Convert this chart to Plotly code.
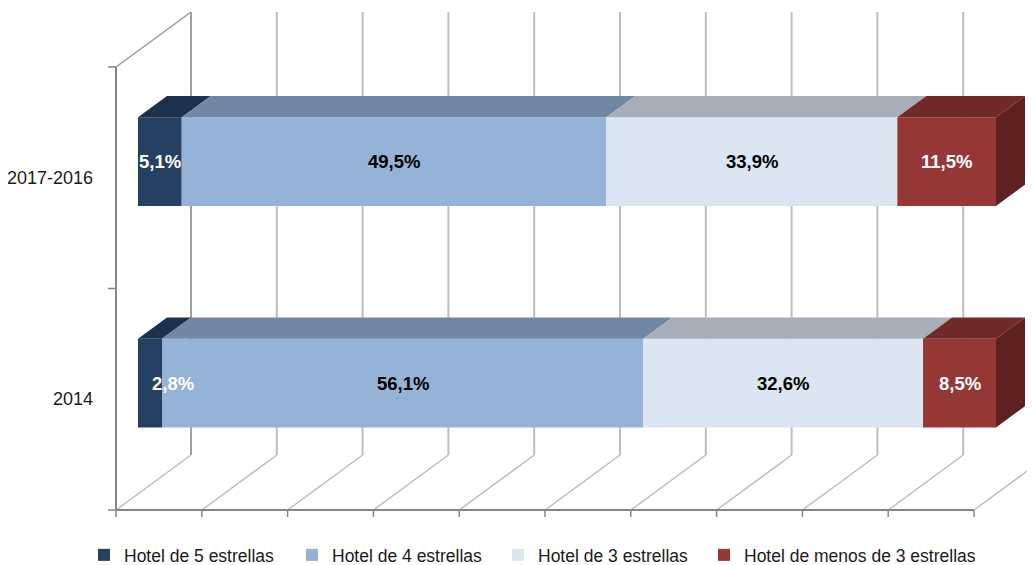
import plotly.graph_objects as go

# ---------------- data ----------------
categories = ["2014", "2017-2016"]
series_names = ["Hotel de 5 estrellas", "Hotel de 4 estrellas",
                "Hotel de 3 estrellas", "Hotel de menos de 3 estrellas"]
hotel_5 = [2.8, 5.1]
hotel_4 = [56.1, 49.5]
hotel_3 = [32.6, 33.9]
hotel_lt3 = [8.5, 11.5]
x_ticks = [0, 10, 20, 30, 40, 50, 60, 70, 80, 90, 100]

series_values = [hotel_5, hotel_4, hotel_3, hotel_lt3]

# ---------------- style ----------------
front_colors = ["#254061", "#95B3D7", "#DCE6F2", "#953735"]
top_colors = ["#1C314C", "#7088A6", "#A7AEB8", "#722A28"]
side_color = "#5E2120"
label_colors = ["white", "black", "black", "white"]
FONT = "Liberation Sans, Arial, sans-serif"

W, H = 1035, 565
PAGE_OFF = 8                    # the page body margin shifts the figure by 8 px
legend_px = [84 - PAGE_OFF, 292 - PAGE_OFF, 498 - PAGE_OFF, 704 - PAGE_OFF]
LEGEND_Y_PX = 555 - PAGE_OFF
ORIGIN_PX = (116 - PAGE_OFF, 510 - PAGE_OFF)   # pixel of value 0 / floor on the front plane
PX_X = 8.58                     # px per percentage unit
PX_Y = 221.5                    # px per category unit
DEPTH_X = 75 / PX_X             # full depth, in data units
DEPTH_Y = 55 / PX_Y
T0, T1 = 0.293, 0.68            # depth fractions of bar front / back faces
BAR_W = 0.4
N_CAT = len(categories)


def proj(v, c, t):
    return v + t * DEPTH_X, c + t * DEPTH_Y


fig = go.Figure()
shapes = []


def add_line(p, q, color, width):
    shapes.append(dict(type="line", xref="x", yref="y", x0=p[0], y0=p[1], x1=q[0], y1=q[1],
                       line=dict(color=color, width=width), layer="below"))


# back wall gridlines
for v in x_ticks:
    add_line(proj(v, 0, 1), proj(v, N_CAT, 1), "#A0A0A0" if v == 0 else "#BEBEBE", 2)
# floor diagonals
for v in x_ticks:
    add_line(proj(v, 0, 0), proj(v, 0, 1), "#BDBDBD", 1.5)
# left wall top edge
add_line(proj(0, N_CAT, 0), proj(0, N_CAT, 1), "#9A9A9A", 1.5)
# front axes
add_line((0, 0), (0, N_CAT), "#868686", 2)
add_line((0, 0), (x_ticks[-1], 0), "#868686", 2)
for c in range(N_CAT + 1):
    add_line((0, c), (-8 / PX_X, c), "#868686", 1.5)
for v in x_ticks:
    add_line((v, 0), (v, -7 / PX_Y), "#868686", 1.5)

cat_pos = [j + 0.5 for j in range(N_CAT)]
annotations = []
legend_names = ["legend", "legend2", "legend3", "legend4"]

cum = [0.0] * N_CAT
for i, (name, vals) in enumerate(zip(series_names, series_values)):
    bases = list(cum)
    # front faces
    fig.add_trace(go.Bar(
        orientation="h", name=name, legend=legend_names[i],
        y=[c + T0 * DEPTH_Y for c in cat_pos],
        x=vals,
        base=[b + T0 * DEPTH_X for b in bases],
        width=BAR_W,
        marker=dict(color=front_colors[i], line=dict(width=0)),
        hoverinfo="skip",
    ))
    for j, c in enumerate(cat_pos):
        x0, x1 = bases[j], bases[j] + vals[j]
        ctop, cbot = c + BAR_W / 2, c - BAR_W / 2
        pts = [proj(x0, ctop, T0), proj(x1, ctop, T0), proj(x1, ctop, T1), proj(x0, ctop, T1), proj(x0, ctop, T0)]
        fig.add_trace(go.Scatter(
            x=[p[0] for p in pts], y=[p[1] for p in pts], mode="lines", fill="toself",
            fillcolor=top_colors[i], line=dict(width=0, color=top_colors[i]),
            showlegend=False, hoverinfo="skip"))
        if i == len(series_values) - 1:
            pts = [proj(x1, cbot, T0), proj(x1, ctop, T0), proj(x1, ctop, T1), proj(x1, cbot, T1), proj(x1, cbot, T0)]
            fig.add_trace(go.Scatter(
                x=[p[0] for p in pts], y=[p[1] for p in pts], mode="lines", fill="toself",
                fillcolor=side_color, line=dict(width=0, color=side_color),
                showlegend=False, hoverinfo="skip"))
        # value label
        txt = f"{vals[j]:.1f}%".replace(".", ",")
        if vals[j] < 4:
            ax, anchor = x0 + 12 / PX_X, "left"
        else:
            ax, anchor = (x0 + x1) / 2, "center"
        lx, ly = proj(ax, c, T0)
        annotations.append(dict(x=lx, y=ly, xref="x", yref="y", text=f"<b>{txt}</b>", showarrow=False,
                                xanchor=anchor, yanchor="middle",
                                font=dict(family=FONT, size=18.5, color=label_colors[i])))
        cum[j] += vals[j]

# category labels
for c, cat in zip(cat_pos, categories):
    annotations.append(dict(x=-21 / PX_X, y=c, xref="x", yref="y", text=cat, showarrow=False,
                            xanchor="right", yanchor="middle",
                            font=dict(family=FONT, size=18, color="#1A1A1A")))

x_lo = -ORIGIN_PX[0] / PX_X
x_hi = (W - ORIGIN_PX[0]) / PX_X
y_lo = -(H - ORIGIN_PX[1]) / PX_Y
y_hi = ORIGIN_PX[1] / PX_Y

legend_common = dict(orientation="h", xanchor="left", y=(H - LEGEND_Y_PX) / H, yanchor="middle",
                     font=dict(family=FONT, size=17.5, color="#1A1A1A"),
                     bgcolor="rgba(0,0,0,0)")
legend_layout = {ln: dict(legend_common, x=px / W) for ln, px in zip(legend_names, legend_px)}

fig.update_layout(
    width=W, height=H,
    margin=dict(l=0, r=0, t=0, b=0, autoexpand=False),
    paper_bgcolor="white", plot_bgcolor="white",
    barmode="overlay",
    shapes=shapes,
    annotations=annotations,
    xaxis=dict(range=[x_lo, x_hi], visible=False, fixedrange=True),
    yaxis=dict(range=[y_lo, y_hi], visible=False, fixedrange=True),
    showlegend=True,
    **legend_layout,
)

fig.write_html("out.html")
